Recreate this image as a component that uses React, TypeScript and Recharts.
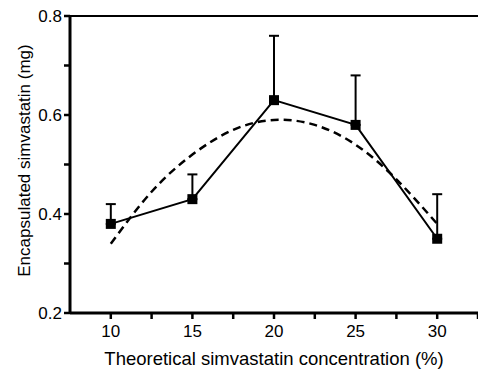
import {
  ComposedChart,
  Line,
  XAxis,
  YAxis,
  ErrorBar,
  ReferenceLine,
  Label,
} from 'recharts';

const concentrations = [10, 15, 20, 25, 30];
const encapsulated = [0.38, 0.43, 0.63, 0.58, 0.35];
const errors = [0.04, 0.05, 0.13, 0.1, 0.09];

// dashed fitted curve
const fitX = [10, 12.5, 15, 17.5, 20, 22.5, 25, 27.5, 30];
const fitY = [0.34, 0.445, 0.52, 0.57, 0.59, 0.58, 0.54, 0.47, 0.38];

const xTicks = [10, 12.5, 15, 17.5, 20, 22.5, 25, 27.5, 30, 32.5];
const yTicks = [0.2, 0.3, 0.4, 0.5, 0.6, 0.7, 0.8];

const data = concentrations.map((x, i) => ({
  x,
  y: encapsulated[i],
  err: [0, errors[i]],
}));
const fitData = fitX.map((x, i) => ({ x, fit: fitY[i] }));

const font = '"Liberation Sans", Arial, sans-serif';

const SquareDot = (props: any) => {
  const { cx, cy, index } = props;
  if (cx == null || cy == null) return null;
  return <rect key={`sq-${index}`} x={cx - 5} y={cy - 5} width={10} height={10} fill="#000" />;
};

// tick mark + label drawn together
const XTick = (props: any) => {
  const { x, y, payload } = props;
  const v = payload.value as number;
  const major = v % 5 === 0;
  return (
    <g>
      <line x1={x} y1={y} x2={x} y2={y + 6} stroke="#000" strokeWidth={2.5} />
      {major && (
        <text x={x} y={y + 24} textAnchor="middle" fontSize={17} fontFamily={font} fill="#000">
          {v}
        </text>
      )}
    </g>
  );
};

const YTick = (props: any) => {
  const { x, y, payload } = props;
  const v = payload.value as number;
  const major = Math.round(v * 10) % 2 === 0;
  return (
    <g>
      <line x1={x - 6} y1={y} x2={x} y2={y} stroke="#000" strokeWidth={2.5} />
      {major && (
        <text x={x - 8} y={y + 6} textAnchor="end" fontSize={17} fontFamily={font} fill="#000">
          {v.toFixed(1)}
        </text>
      )}
    </g>
  );
};

export default function App() {
  return (
    <div style={{ width: 478, height: 370, background: '#fff' }}>
      <style>{'body{margin:0}'}</style>
      <ComposedChart
        width={478}
        height={370}
        margin={{ top: 16, right: 0, bottom: 0, left: 0 }}
        style={{ fontFamily: font }}
      >
        <XAxis
          dataKey="x"
          type="number"
          domain={[7.5, 32.5]}
          ticks={xTicks}
          height={57}
          tickSize={0}
          tickMargin={0}
          interval={0}
          axisLine={false}
          tickLine={false}
          tick={XTick}
        >
          <Label
            content={(p: any) => {
              const vb = p.viewBox;
              const cx = vb.x + vb.width / 2;
              return (
                <text x={cx} y={365} textAnchor="middle" fontSize={18.5} fontFamily={font} fill="#000">
                  Theoretical simvastatin concentration (%)
                </text>
              );
            }}
          />
        </XAxis>
        <YAxis
          type="number"
          domain={[0.2, 0.8]}
          ticks={yTicks}
          width={70}
          tickSize={0}
          tickMargin={0}
          interval={0}
          axisLine={false}
          tickLine={false}
          tick={YTick}
        >
          <Label
            content={(p: any) => {
              const vb = p.viewBox;
              const cx = 24;
              const cy = vb.y + vb.height / 2 - 4;
              return (
                <text
                  x={cx}
                  y={cy}
                  transform={`rotate(-90 ${cx} ${cy})`}
                  textAnchor="middle"
                  dominantBaseline="central"
                  fontSize={17}
                  fontFamily={font}
                  fill="#000"
                >
                  Encapsulated simvastatin (mg)
                </text>
              );
            }}
          />
        </YAxis>
        <ReferenceLine y={0.8} stroke="#000" strokeWidth={2} />
        <ReferenceLine y={0.2} stroke="#000" strokeWidth={3} />
        <ReferenceLine x={7.5} stroke="#000" strokeWidth={3} />
        <Line
          data={fitData}
          dataKey="fit"
          type="natural"
          stroke="#000"
          strokeWidth={2.5}
          strokeDasharray="8 5"
          dot={false}
          activeDot={false}
          isAnimationActive={false}
        />
        <Line
          data={data}
          dataKey="y"
          type="linear"
          stroke="#000"
          strokeWidth={2}
          dot={SquareDot}
          activeDot={false}
          isAnimationActive={false}
        >
          <ErrorBar dataKey="err" direction="y" width={5} stroke="#000" strokeWidth={2} />
        </Line>
      </ComposedChart>
    </div>
  );
}
